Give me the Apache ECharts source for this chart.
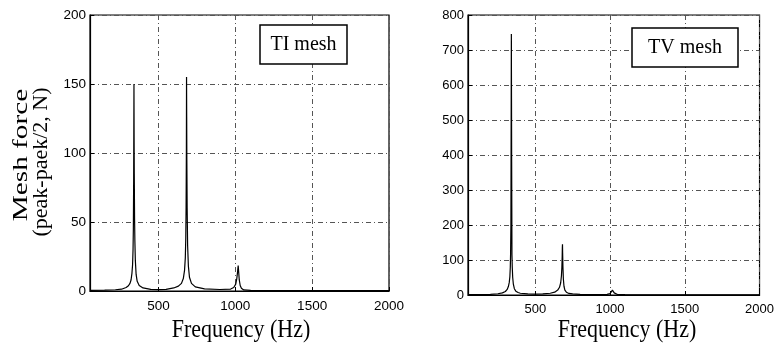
<!DOCTYPE html>
<html>
<head>
<meta charset="utf-8">
<script src="https://cdn.jsdelivr.net/npm/echarts@6/dist/echarts.min.js"></script>
<style>html,body{margin:0;padding:0;background:#fff}#c{width:777px;height:349px}</style>
</head>
<body>
<div id="c"></div>
<script>
// ---- data (frequency Hz, mesh force N) ----
const tiMeshData = [[55,0.5],[150,0.6],[220,0.9],[260,1.3],[290,2.5],[305,3.8],[315,5.5],[322,8],[328,13],[332,19],[335,30],[337,45],[339,80],[340,115],[341,150],[342,110],[343,85],[345,52],[347,36],[350,22],[355,12],[362,7],[375,4],[400,2.2],[450,1.2],[500,1],[550,1.2],[600,2.2],[630,3.5],[650,5.5],[662,9],[670,15],[675,24],[678,38],[680,60],[681,80],[682,103],[683,155],[684,126],[685,95],[687,60],[690,33],[695,18],[702,10],[715,5.5],[740,3],[800,1.5],[900,1.1],[970,1.4],[990,2.5],[1003,5],[1010,9],[1015,14],[1019,18.5],[1022,14],[1026,8],[1032,4],[1040,2],[1055,0.8],[1100,0.4],[1300,0.3],[2000,0.2]];
const tvMeshData = [[50,1],[150,1.3],[200,2],[250,3.5],[280,6],[300,10],[312,16],[320,24],[326,36],[330,52],[333,80],[335,120],[337,200],[338,380],[339,560],[340,746],[341,560],[342,380],[343,250],[344,115],[346,80],[349,50],[353,32],[360,18],[370,11],[385,7],[400,5],[450,3],[500,2.5],[550,3],[600,5],[630,8],[650,14],[662,22],[670,35],[675,55],[678,80],[680,110],[681,135],[682,145],[683,120],[685,80],[688,45],[692,25],[698,14],[708,8],[725,4.5],[750,3],[800,2],[900,1.5],[980,2],[1000,4],[1010,9],[1016,14],[1019,16],[1023,12],[1028,6],[1035,3],[1050,1.5],[1100,1],[1300,0.6],[2000,0.4]];
const xTicks = [500, 1000, 1500, 2000];
const tiYTicks = [0, 50, 100, 150, 200];
const tvYTicks = [0, 100, 200, 300, 400, 500, 600, 700, 800];
const tiLabel = 'TI mesh';
const tvLabel = 'TV mesh';
const xTitle = 'Frequency (Hz)';
const yTitle1 = 'Mesh force';
const yTitle2 = '(peak-paek/2, N)';

const chart = echarts.init(document.getElementById('c'), null, {renderer: 'canvas'});
const gridLine = {show: true, lineStyle: {color: '#555', width: 1, type: [5, 3, 1, 3]}};
const plain = v => String(v);
function xAxis(idx, min, fs) {
  return {
    type: 'value', gridIndex: idx, min: min, max: 2000,
    axisLine: {show: true, onZero: false, lineStyle: {color: '#000', width: 1.2}},
    axisTick: {show: true, inside: true, length: 4, customValues: xTicks, lineStyle: {color: '#000'}},
    axisLabel: {customValues: xTicks, formatter: plain, color: '#000', fontSize: fs, fontFamily: 'Liberation Sans', margin: 8, showMaxLabel: true},
    splitLine: gridLine
  };
}
function yAxis(idx, ticks, fs) {
  return {
    type: 'value', gridIndex: idx, min: ticks[0], max: ticks[ticks.length - 1], interval: ticks[1] - ticks[0],
    axisLine: {show: true, lineStyle: {color: '#000', width: 1.2}},
    axisTick: {show: true, inside: true, length: 4, lineStyle: {color: '#000'}},
    axisLabel: {formatter: plain, color: '#000', fontSize: fs, fontFamily: 'Liberation Sans', margin: 4},
    splitLine: gridLine
  };
}
const serif = '"Liberation Serif", "Times New Roman", serif';
chart.setOption({
  animation: false,
  backgroundColor: '#fff',
  grid: [
    {left: 90, right: 388, top: 15, bottom: 58, show: true, borderColor: '#000', borderWidth: 1.2, backgroundColor: 'transparent'},
    {left: 468, right: 17, top: 15, bottom: 54, show: true, borderColor: '#000', borderWidth: 1.2, backgroundColor: 'transparent'}
  ],
  xAxis: [xAxis(0, 55, 13.5), xAxis(1, 50, 13)],
  yAxis: [yAxis(0, tiYTicks, 13.5), yAxis(1, tvYTicks, 13)],
  series: [
    {type: 'line', xAxisIndex: 0, yAxisIndex: 0, data: tiMeshData, showSymbol: false, lineStyle: {color: '#000', width: 1.2}, z: 5},
    {type: 'line', xAxisIndex: 1, yAxisIndex: 1, data: tvMeshData, showSymbol: false, lineStyle: {color: '#000', width: 1.2}, z: 5}
  ],
  graphic: [
    {type: 'rect', shape: {x: 260, y: 25, width: 87, height: 39}, style: {fill: '#fff', stroke: '#000', lineWidth: 1.5}, z: 10},
    {type: 'text', x: 303.5, y: 45, style: {text: tiLabel, font: '20px ' + serif, fill: '#000', align: 'center', verticalAlign: 'middle'}, z: 11},
    {type: 'rect', shape: {x: 632, y: 28, width: 106, height: 39}, style: {fill: '#fff', stroke: '#000', lineWidth: 1.5}, z: 10},
    {type: 'text', x: 685, y: 48, style: {text: tvLabel, font: '20px ' + serif, fill: '#000', align: 'center', verticalAlign: 'middle'}, z: 11},
    {type: 'text', x: 241, y: 330, scaleX: 0.88, style: {text: xTitle, font: '25px ' + serif, fill: '#000', align: 'center', verticalAlign: 'middle'}},
    {type: 'text', x: 627, y: 330, scaleX: 0.88, style: {text: xTitle, font: '25px ' + serif, fill: '#000', align: 'center', verticalAlign: 'middle'}},
    {type: 'text', x: 21, y: 155, rotation: Math.PI / 2, scaleX: 1.33, style: {text: yTitle1, font: '22px ' + serif, fill: '#000', align: 'center', verticalAlign: 'middle'}},
    {type: 'text', x: 41, y: 162, rotation: Math.PI / 2, style: {text: yTitle2, font: '22px ' + serif, fill: '#000', align: 'center', verticalAlign: 'middle'}}
  ]
});
</script>
</body>
</html>
